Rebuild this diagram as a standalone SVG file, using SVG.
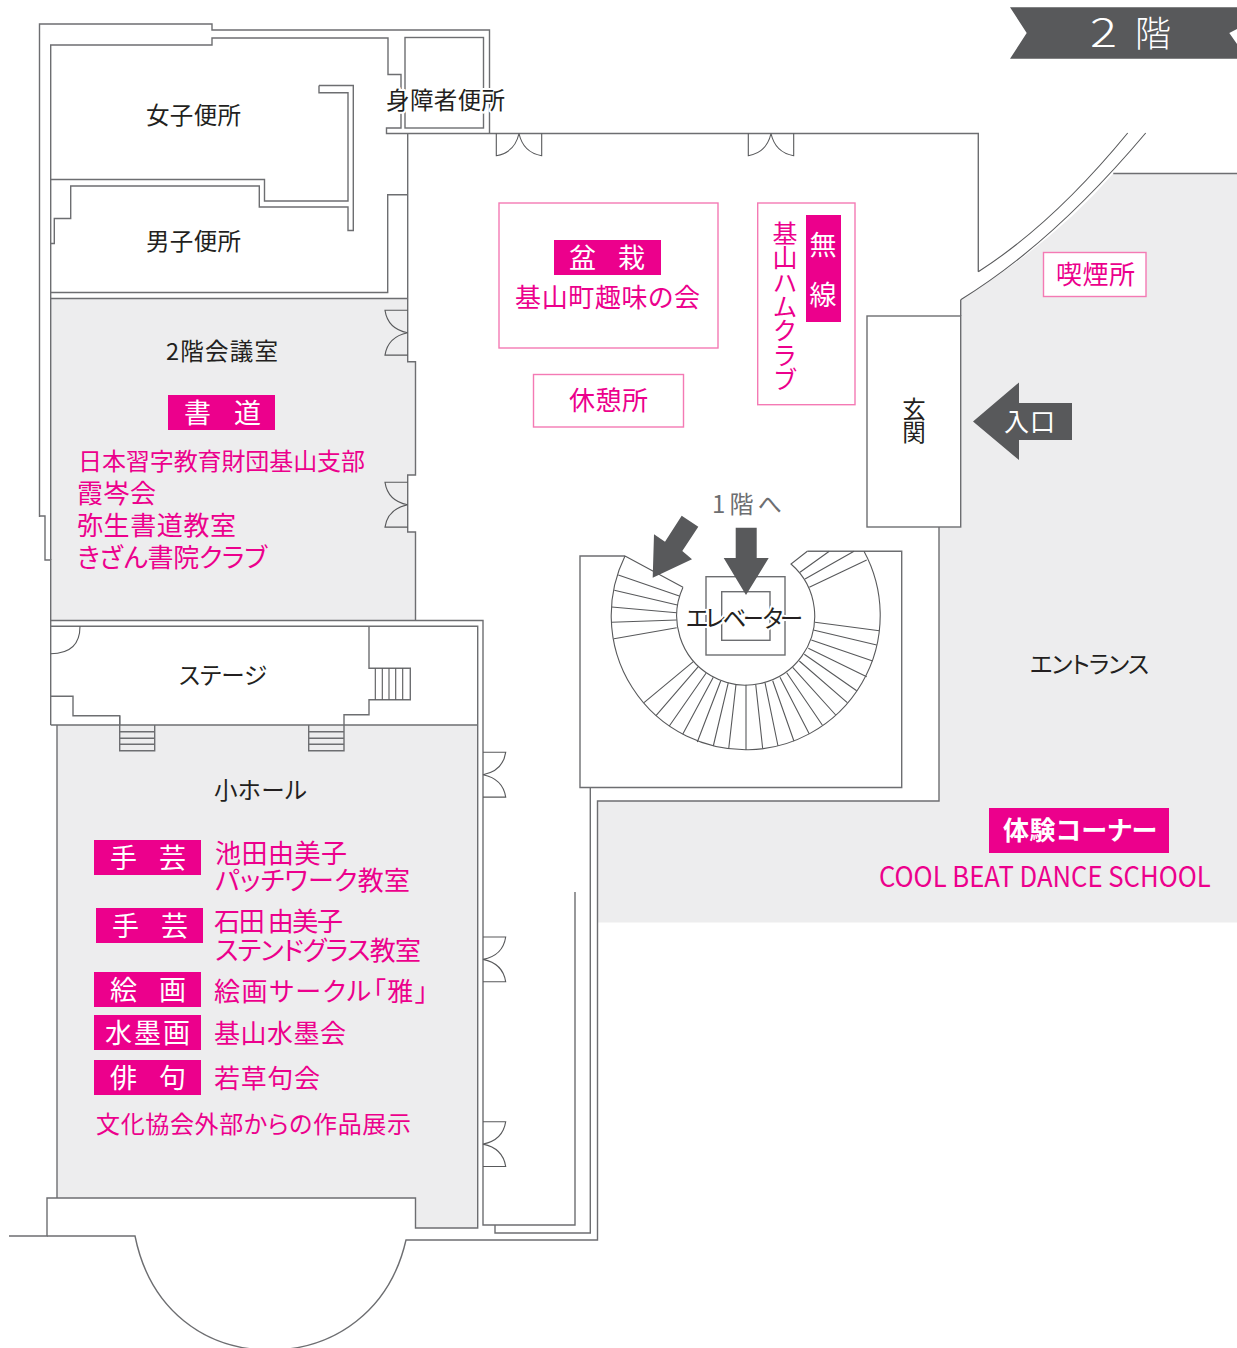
<svg xmlns="http://www.w3.org/2000/svg" width="1237" height="1348" viewBox="0 0 1237 1348">
<style>
text{font-family:"Noto Sans CJK JP","Noto Sans",sans-serif;font-feature-settings:"palt"}
.v{writing-mode:vertical-rl;font-feature-settings:normal}
.w{fill:none;stroke:#6d6e71;stroke-width:1.4}
.d{fill:none;stroke:#58595b;stroke-width:1.1}
.g{fill:#ededee}
.pb{fill:#fff;stroke:#f47ab4;stroke-width:1.4}
.tag{fill:#ec008c}
.t{font-size:23.5px;fill:#231f20}
.h{font-size:23.5px;fill:#231f20;paint-order:stroke;stroke:#fff;stroke-width:4px;stroke-linejoin:round}
.p{font-size:26px;fill:#ec008c}
.s{font-size:24px;fill:#ec008c}
.tw{font-size:27px;fill:#fff}
.ar{fill:#58595b}
</style>
<defs>
<g id="doorV"><path d="M22.7,0H0C2,13 10,20 22.7,22.4C10,25 2,32 0,44.8H22.7"/></g>
<g id="doorR"><path d="M0,0H22.7C20.7,13 12.7,20 0,22.4C12.7,25 20.7,32 22.7,44.8H0"/></g>
<g id="doorD"><path d="M0,0V22.2C13,20 20,12 22.7,0C25.4,12 32.4,20 45.4,22.2V0"/></g>
</defs>

<g id="floors">
<path class="g" d="M50.7,298.5H407.7V361.7H415.5V475H407.7V532H415.5V620.5H50.7Z"/>
<path class="g" d="M57,725H477.7V1228H415.5V1198H57Z"/>
<path class="g" d="M960.7,299.7Q1053,243 1113.3,173.5H1237V922.5H597.5V801H939V527H960.7Z"/>
</g>

<g id="walls">
<path class="w" d="M39.5,517V24H212V30H489.5V133.5"/>
<path class="w" d="M39.5,516H45V560H50.7V725"/>
<path class="w" d="M50.7,560V45H212V38H388V74.5H401V128H386.5V133.5H978.3V271.7"/>
<rect class="w" x="405" y="37.5" width="78.5" height="90.5"/>
<path class="w" d="M319,85.5H353.3V230.5H348V207H259.3V186H70.7V218.5H54.3V243.5H50.7"/>
<path class="w" d="M50.7,179.5H264.5V201H348V92.7H319V85.5"/>
<path class="w" d="M407.7,133.5V361.7H415.5V475H407.7V532H415.5V620.5"/>
<path class="w" d="M407.7,194.7H387.7V292.5H50.7"/>
<path class="w" d="M50.7,298.5H407.7"/>
<path class="w" d="M50.7,620.5H483V1225H575V892"/>
<path class="w" d="M50.7,626.3H477.7V1228H415.5V1198H47V1236H9"/>
<path class="w" d="M57,725V1198"/>
<path class="w" d="M47,1236H135C150,1310 205,1350 270,1350C335,1350 390,1310 406,1240H597.5V801H939V527"/>
<path class="w" d="M495,1225V1233H590.3V787.5"/>
<path class="w" d="M50.7,725H477.7"/>
<path class="w" d="M369,626.3V668.3H410.3V699.7H369V714.7H344V725"/>
<path class="w" d="M50.7,696.3H73V715.7H119.7V725"/>
<path class="w" d="M119.7,715.7V750.7H154.7V725"/>
<path class="w" d="M119.7,731.7H154.7M119.7,738.3H154.7M119.7,744.3H154.7"/>
<path class="w" d="M308.7,725V750.7H344V725M308.7,731.7H344M308.7,738.3H344M308.7,744.3H344"/>
<path class="d" d="M375.3,668.3V699.7M382.3,668.3V699.7M389,668.3V699.7M395.7,668.3V699.7M402.7,668.3V699.7"/>
<path class="d" d="M80,626.3C80,645 70,653.7 50.7,653.7"/>
<rect class="w" x="867" y="316" width="93.7" height="211"/>
<path class="d" d="M978.3,271.7Q1053,224 1127.7,133"/>
<path class="d" d="M960.7,299.7Q1053,243 1145.7,133"/>
<path class="w" d="M1113.3,173.5H1237"/>
<path class="w" d="M960.7,299.7V316"/>
<use href="#doorV" class="d" x="385" y="310.3"/>
<use href="#doorV" class="d" x="385" y="482.3"/>
<use href="#doorR" class="d" x="483" y="752.3"/>
<use href="#doorR" class="d" x="483" y="937"/>
<use href="#doorR" class="d" x="483" y="1121.7"/>
<use href="#doorD" class="d" x="496.3" y="133.5"/>
<use href="#doorD" class="d" x="748.3" y="133.5"/>
</g>

<g id="stairs">
<path class="w" d="M625,556H580V787.5H901.7V551.3H807.3"/>
<path class="d" d="M625,556A134.5,134.5 0 1 0 864,551.3M683,587.3L625,556M683,587.3A69,69 0 1 0 791,564L807.3,551.3"/>
<path class="d" d="M618.3,575L679.3,596M614.3,590.3L677.3,605M611.7,607L676.7,612.7M611.7,622.3L676.7,620M614,638.7L676.7,627.7"/>
<path class="d" d="M644,702.7L693.3,661.7M656,715.7L698.3,666.7M669.3,726L706,673.3M682.7,734.3L713.3,677.3M697.3,742L720.7,681M713.3,746L728.3,682.7M728.7,748.7L736,684.3M746,750V684.7M762.7,748.7L755.7,684.3M778,746L765,682.7M794,741.3L772.7,680.7M809.3,734L780,677.3M822.3,725L786.7,672.7M835.7,715L792.7,667.3M847.3,702.7L799.3,661M856.7,690.7L804.3,654.3M866.7,676.7L808.3,648.3M872.7,661L811.3,640M876.7,645L813.3,630M879.3,630.7L815,622.3"/>
<path class="d" d="M866.7,560L809.3,587.3M854,551.3L805,579M829.3,551.3L800,572.3"/>
<rect class="w" x="706" y="576.7" width="79" height="78.3"/>
<rect class="w" x="721.7" y="591.7" width="48.3" height="48.6"/>
</g>

<g id="arrows">
<path class="ar" d="M735.7,527.7H756.7V558H768.7L746,595L723.7,558H735.7Z"/>
<path class="ar" d="M681.7,515.7L698.3,526.7L682.3,551L692,559.3L652.7,577.7L654,534.3L665,541.7Z"/>
<path class="ar" d="M973,421.5L1019,382.5V403H1072V440H1019V460Z"/>
<path class="ar" d="M1010,7.3H1237V29L1229.3,33L1237,44V58.7H1010L1026.7,33Z"/>
</g>

<g id="boxes">
<rect class="pb" x="499" y="203" width="219" height="145"/>
<rect class="pb" x="533.5" y="374.5" width="150" height="52.5"/>
<rect class="pb" x="757.7" y="203" width="97.3" height="201.7"/>
<rect class="pb" x="1043.5" y="252.5" width="102.5" height="44"/>
<rect class="tag" x="554" y="240" width="107" height="35"/>
<rect class="tag" x="806" y="215" width="35" height="107"/>
<rect class="tag" x="168" y="395" width="107" height="35"/>
<rect class="tag" x="94" y="840" width="107" height="35"/>
<rect class="tag" x="96" y="908" width="107" height="35"/>
<rect class="tag" x="94" y="972" width="107" height="35"/>
<rect class="tag" x="94" y="1015" width="107" height="35"/>
<rect class="tag" x="94" y="1060" width="107" height="35"/>
<rect class="tag" x="989" y="808" width="180" height="45"/>
</g>

<g id="labels">
<text class="t" x="146" y="124" textLength="95">女子便所</text>
<text class="t" x="146" y="250" textLength="95">男子便所</text>
<text class="h" x="386" y="109" textLength="119">身障者便所</text>
<text class="t" x="166" y="360" textLength="112">2階会議室</text>
<text class="t" x="179" y="684" textLength="88">ステージ</text>
<text class="t" x="214" y="799" textLength="93">小ホール</text>
<text class="t" x="1030" y="673" textLength="119">エントランス</text>
<text class="h" x="686" y="627" textLength="117">エレベーター</text>
<text class="t v" x="914" y="397">玄関</text>
<text x="712" y="513" font-size="24" fill="#6d6e71" textLength="70">1階へ</text>
<text x="1004" y="431" font-size="25" fill="#fff" textLength="51">入口</text>
<text x="1090" y="47" font-size="40" font-weight="300" fill="#fff" font-family="Inter" textLength="27" lengthAdjust="spacingAndGlyphs">2</text>
<text x="1135" y="47" font-size="36" font-weight="300" fill="#fff">階</text>

<text class="tw" x="569" y="268">盆</text>
<text class="tw" x="618" y="268">栽</text>
<text class="p" x="515" y="307" textLength="185">基山町趣味の会</text>
<text class="p" x="569" y="410" textLength="79">休憩所</text>
<text class="tw" x="809.5" y="255">無</text>
<text class="tw" x="809.5" y="305">線</text>
<text class="p v" style="font-size:25px" x="785" y="221" textLength="171">基山ハムクラブ</text>
<text class="p" x="1056" y="284" textLength="79">喫煙所</text>

<text class="tw" x="184" y="423">書</text>
<text class="tw" x="234" y="423">道</text>
<text class="s" x="78" y="470" textLength="287">日本習字教育財団基山支部</text>
<text class="p" x="77" y="503" textLength="79">霞岑会</text>
<text class="p" x="77" y="535" textLength="159">弥生書道教室</text>
<text class="p" x="77" y="567" textLength="190">きざん書院クラブ</text>

<text class="tw" x="110" y="868">手</text>
<text class="tw" x="159" y="868">芸</text>
<text class="p" x="215" y="863" textLength="132">池田由美子</text>
<text class="p" x="215" y="890" textLength="195">パッチワーク教室</text>
<text class="tw" x="112" y="936">手</text>
<text class="tw" x="161" y="936">芸</text>
<text class="p" x="214" y="931" textLength="129">石田 由美子</text>
<text class="p" x="215" y="960" textLength="206">ステンドグラス教室</text>
<text class="tw" x="110" y="1000">絵</text>
<text class="tw" x="159" y="1000">画</text>
<text class="p" x="214" y="1001" textLength="214">絵画サークル「雅」</text>
<text class="tw" x="105" y="1043" textLength="85">水墨画</text>
<text class="p" x="214" y="1043" textLength="132">基山水墨会</text>
<text class="tw" x="110" y="1088">俳</text>
<text class="tw" x="159" y="1088">句</text>
<text class="p" x="214" y="1088" textLength="106">若草句会</text>
<text class="s" x="96" y="1133" textLength="315">文化協会外部からの作品展示</text>
<text x="1003" y="840" font-size="26" font-weight="700" fill="#fff" textLength="154">体験コーナー</text>
<text transform="translate(879,887) scale(.917,1)" font-size="28" fill="#ec008c" font-family="Noto Sans">COOL BEAT DANCE SCHOOL</text>
</g>
</svg>
